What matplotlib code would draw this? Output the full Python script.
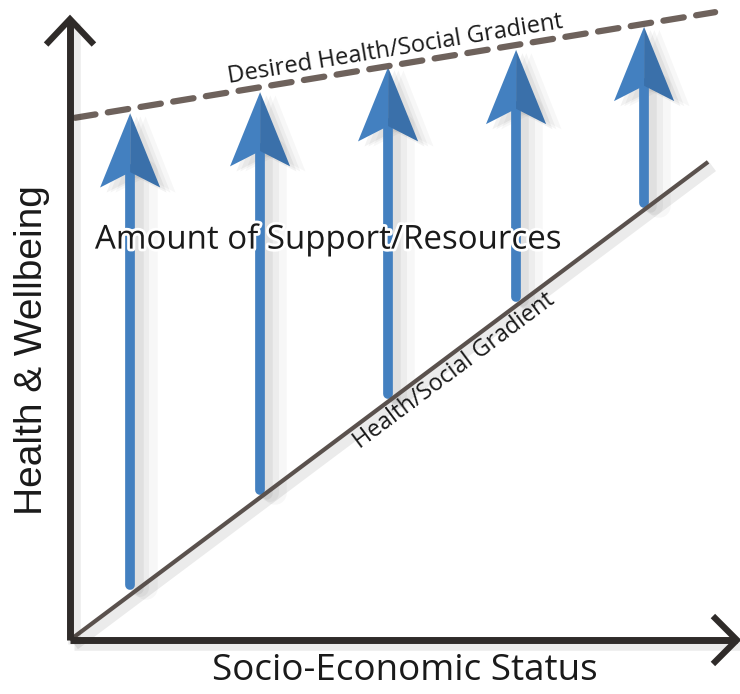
import numpy as np
import matplotlib
matplotlib.use("Agg")
import matplotlib.pyplot as plt
from matplotlib.patches import Polygon
import matplotlib.patheffects as pe

plt.rcParams['font.family'] = ['Open Sans', 'DejaVu Sans']

# ---- data (conceptual units: 1 unit = SES step) ----
arrow_x = [0.94, 2.97, 4.97, 6.97, 8.97]          # SES positions of support arrows
arrow_base = [0.86, 2.34, 3.84, 5.36, 6.83]        # health level where support starts
arrow_tip = [8.23, 8.56, 8.95, 9.22, 9.58]         # desired health level reached
gradient_x = [0.0, 9.97]                           # actual health/social gradient
gradient_y = [0.0, 7.47]
desired_x = [0.08, 10.08]                          # desired health/social gradient
desired_y = [8.16, 9.81]

labels = {
    'x': 'Socio-Economic Status',
    'y': 'Health & Wellbeing',
    'support': 'Amount of Support/Resources',
    'actual': 'Health/Social Gradient',
    'desired': 'Desired Health/Social Gradient',
}

W, H = 740, 694
fig = plt.figure(figsize=(W / 100, H / 100), dpi=100)
ax = fig.add_axes([0, 0, 1, 1])
k = 64.0  # px per unit
ox, oy = 70, 640
ax.set_xlim(-ox / k, (W - ox) / k)
ax.set_ylim(-(H - oy) / k, oy / k)
ax.axis('off')

axis_col = '#2f2b29'
line_col = '#5a514d'
dash_col = '#6e625c'
blue_l = '#4380c0'
blue_d = '#3a70aa'

shadow = [pe.SimpleLineShadow(offset=(3, -3), shadow_color='#000000', alpha=0.08, linewidth=9), pe.Normal()]

# axes with open arrowheads
ax.plot([0, 0], [0, 9.7], color=axis_col, lw=5, solid_capstyle='butt', zorder=5, path_effects=shadow)
ax.plot([0, 10.42], [0, 0], color=axis_col, lw=5, solid_capstyle='butt', zorder=5, path_effects=shadow)
ax.plot([-0.34, 0, 0.34], [9.34, 9.70, 9.34], color=axis_col, lw=4.5, solid_joinstyle='miter', zorder=5)
ax.plot([10.08, 10.42, 10.08], [0.34, 0, -0.34], color=axis_col, lw=4.5, solid_joinstyle='miter', zorder=5)

# actual gradient
ax.plot(gradient_x, gradient_y, color=line_col, lw=3, solid_capstyle='butt', zorder=4, path_effects=shadow)
# desired gradient
ax.plot(desired_x, desired_y, color=dash_col, lw=4.5, dashes=(3.3, 2.0), solid_capstyle='round',
        dash_capstyle='round', zorder=4)

# support arrows
head_len = 1.16
notch = 0.92
half_w = 0.47
for x, b, t in zip(arrow_x, arrow_base, arrow_tip):
    # soft shadow
    for i, (dx, a) in enumerate([(0.10, 0.05), (0.16, 0.04), (0.24, 0.03)]):
        ax.add_patch(Polygon([(x + dx, t - 0.05), (x + dx + half_w, t - head_len - 0.08), (x + dx, t - notch - 0.08),
                              (x + dx - half_w, t - head_len - 0.08)], closed=True, color='k', alpha=a, lw=0, zorder=2))
        ax.plot([x + dx, x + dx], [b - 0.05, t - notch], color='k', alpha=a, lw=9 + 4 * i, zorder=2,
                solid_capstyle='round')
    ax.plot([x, x], [b, t - notch + 0.05], color=blue_l, lw=7, solid_capstyle='round', zorder=3)
    ax.add_patch(Polygon([(x, t), (x - half_w, t - head_len), (x, t - notch)], closed=True,
                         facecolor=blue_l, edgecolor='none', zorder=3))
    ax.add_patch(Polygon([(x, t), (x + half_w, t - head_len), (x, t - notch)], closed=True,
                         facecolor=blue_d, edgecolor='none', zorder=3))

ang_act = np.degrees(np.arctan2(gradient_y[1] - gradient_y[0], gradient_x[1] - gradient_x[0]))
ang_des = np.degrees(np.arctan2(desired_y[1] - desired_y[0], desired_x[1] - desired_x[0]))

txt_col = '#1a1a1a'
halo = [pe.withStroke(linewidth=4, foreground='white')]
ax.text(0.39, 6.25, labels['support'], fontsize=23.8, color=txt_col, ha='left', va='center', zorder=6,
        path_effects=halo)
ax.text(5.23, -0.49, labels['x'], fontsize=26.5, color=txt_col, ha='center', va='center')
ax.text(-0.59, 4.53, labels['y'], fontsize=28, color=txt_col, ha='center', va='center', rotation=90,
        family=['Liberation Sans', 'DejaVu Sans'])
ax.text(5.08, 9.22, labels['desired'], fontsize=17, color=txt_col, ha='center', va='center',
        rotation=ang_des, rotation_mode='anchor')
ax.text(6.0, 4.2, labels['actual'], fontsize=16.8, color=txt_col, ha='center', va='center',
        rotation=ang_act, rotation_mode='anchor')

fig.savefig('out.png', dpi=100, facecolor='white')
